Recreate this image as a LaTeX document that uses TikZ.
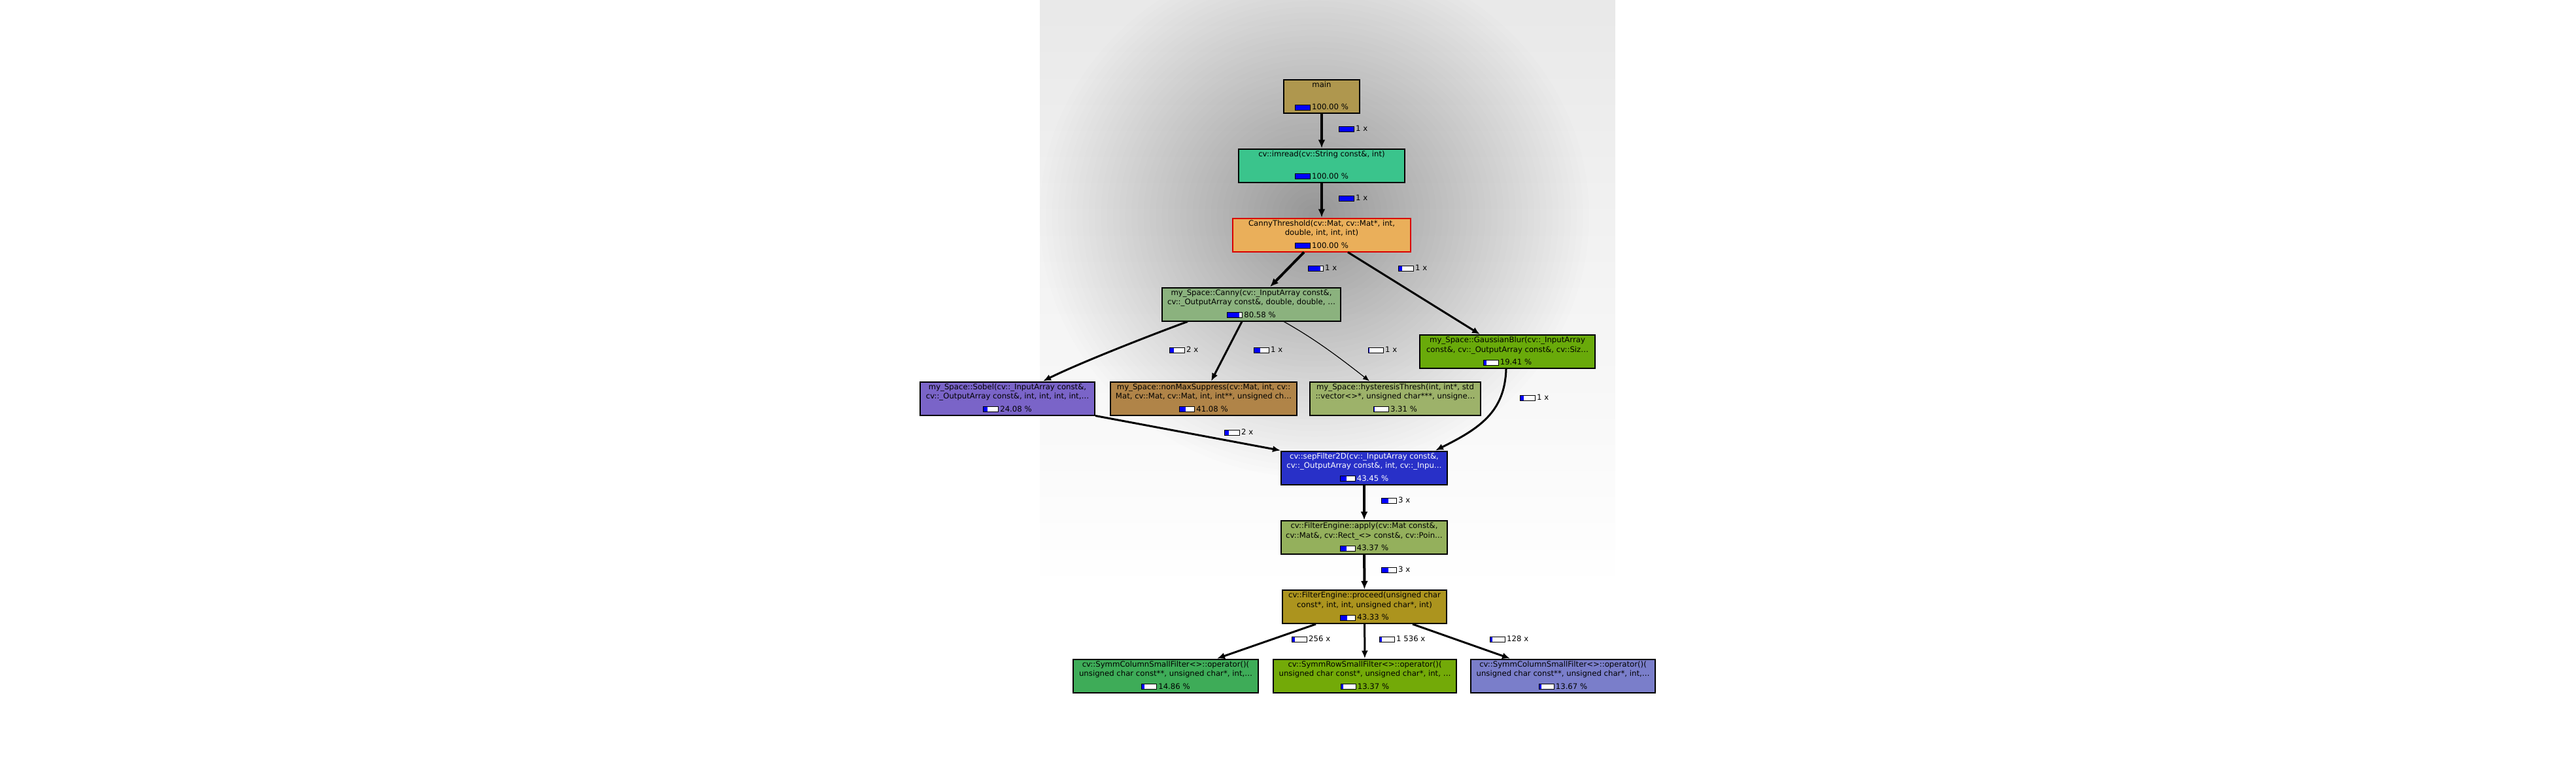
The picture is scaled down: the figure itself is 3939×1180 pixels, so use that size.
\documentclass[tikz,border=0pt]{standalone}
\usepackage{fontspec}
\setmainfont{DejaVu Sans}
\usepackage{tikz}
\usepackage{xcolor}
\usetikzlibrary{arrows.meta,positioning}

\definecolor{cmain}{RGB}{175,151,78}
\definecolor{cread}{RGB}{58,196,140}
\definecolor{cthresh}{RGB}{234,175,90}
\definecolor{ccanny}{RGB}{139,178,126}
\definecolor{csobel}{RGB}{122,100,200}
\definecolor{cnonmax}{RGB}{176,132,72}
\definecolor{chyst}{RGB}{157,178,106}
\definecolor{cgauss}{RGB}{105,170,10}
\definecolor{csep}{RGB}{40,48,200}
\definecolor{capply}{RGB}{148,176,92}
\definecolor{cproceed}{RGB}{172,148,30}
\definecolor{ccolA}{RGB}{62,172,88}
\definecolor{crow}{RGB}{115,170,8}
\definecolor{ccolB}{RGB}{122,126,202}

% cost bar, #1 = blue part in pt (0..22)
\newcommand{\pbar}[1]{{\setlength{\fboxsep}{0pt}\setlength{\fboxrule}{1pt}\fcolorbox{black}{white}{\makebox[22pt][l]{\textcolor{blue}{\rule{#1pt}{7pt}}}}}}

% function box: name, x, y, width, box options, text colour, text, bar, percent
\newcommand{\callee}[9]{%
  \node[fnbox, #5, minimum width=#4pt] (#1) at (#2,#3) {};
  \node[fnlabel, text=#6, below=3.5pt of #1.north] (#1-name) {#7};
  \node[fnlabel, text=#6, above=5pt of #1.south] (#1-cost) {\pbar{#8}\hspace{2pt}#9\ \%};
}
% call count label: name, x, y, bar, count
\newcommand{\calls}[5]{\node[calllabel] (#1) at (#2,#3) {\pbar{#4}\hspace{2pt}#5\ x};}

\begin{document}
\begin{tikzpicture}[x=1pt,y=-1pt,
    fnbox/.style={rectangle, draw=black, line width=2pt, minimum height=51pt, inner sep=0pt},
    fnlabel/.style={inner sep=0pt, align=center, font=\fontsize{11.7}{14.7}\selectfont},
    calllabel/.style={inner sep=0pt, anchor=west, font=\fontsize{11.7}{14.7}\selectfont},
    call/.style={line width=4pt, -{Latex[length=13pt,width=11pt]}},
    callmid/.style={line width=3pt, -{Latex[length=12pt,width=10pt]}},
    callthin/.style={line width=1.2pt, -{Latex[length=10pt,width=8pt]}}]
\useasboundingbox (0,0) rectangle (3939,1180);
\fill[white] (0,0) rectangle (3939,1180);

% shadow behind the graph
\begin{scope}
  \clip (1590,0) rectangle (2470,880);
  \foreach \i in {0,...,21}
    \fill[black, opacity=0.004] (1590,0) rectangle (2470,{40*(\i+1)});
  \foreach \i in {0,...,44}
    \fill[black, opacity=0.0065] (2010,330) ellipse ({420*(1-\i/45)} and {400*(1-\i/45)});
\end{scope}

\callee{main}{2021}{147.5}{116}{fill=cmain}{black}{main}{22}{100.00}
\callee{imread}{2021}{253}{254}{fill=cread}{black}{cv::imread(cv::String const\&, int)}{22}{100.00}
\callee{thresh}{2021}{359}{272}{fill=cthresh, draw=red!85!black}{black}{CannyThreshold(cv::Mat, cv::Mat*, int,\\double, int, int, int)}{22}{100.00}
\callee{canny}{1913.5}{465}{273}{fill=ccanny}{black}{my\_Space::Canny(cv::\_InputArray const\&,\\cv::\_OutputArray const\&, double, double, …}{17.7}{80.58}
\callee{sobel}{1540.5}{609}{267}{fill=csobel}{black}{my\_Space::Sobel(cv::\_InputArray const\&,\\cv::\_OutputArray const\&, int, int, int, int,…}{5.3}{24.08}
\callee{nonmax}{1840.5}{609}{285}{fill=cnonmax}{black}{my\_Space::nonMaxSuppress(cv::Mat, int, cv::\\Mat, cv::Mat, cv::Mat, int, int**, unsigned ch…}{9}{41.08}
\callee{hyst}{2133.5}{609}{261}{fill=chyst}{black}{my\_Space::hysteresisThresh(int, int*, std\\::vector<>*, unsigned char***, unsigne…}{0.8}{3.31}
\callee{gauss}{2305}{537.5}{268}{fill=cgauss}{black}{my\_Space::GaussianBlur(cv::\_InputArray\\const\&, cv::\_OutputArray const\&, cv::Siz…}{4.3}{19.41}
\callee{sep}{2086}{715}{254}{fill=csep}{white}{cv::sepFilter2D(cv::\_InputArray const\&,\\cv::\_OutputArray const\&, int, cv::\_Inpu…}{9.6}{43.45}
\callee{apply}{2086}{821.5}{254}{fill=capply}{black}{cv::FilterEngine::apply(cv::Mat const\&,\\cv::Mat\&, cv::Rect\_<> const\&, cv::Poin…}{9.5}{43.37}
\callee{proceed}{2086.5}{927.5}{251}{fill=cproceed}{black}{cv::FilterEngine::proceed(unsigned char\\const*, int, int, unsigned char*, int)}{9.5}{43.33}
\callee{colA}{1782.5}{1033}{283}{fill=ccolA}{black}{cv::SymmColumnSmallFilter<>::operator()(\\unsigned char const**, unsigned char*, int,…}{3.3}{14.86}
\callee{row}{2087}{1033}{280}{fill=crow}{black}{cv::SymmRowSmallFilter<>::operator()(\\unsigned char const*, unsigned char*, int, …}{2.9}{13.37}
\callee{colB}{2390}{1033}{282}{fill=ccolB}{black}{cv::SymmColumnSmallFilter<>::operator()(\\unsigned char const**, unsigned char*, int,…}{3}{13.67}

% calls
\draw[call] (main) -- (imread);
\draw[call] (imread) -- (thresh);
\draw[call] ([xshift=-27pt]thresh.south) -- ([xshift=28.5pt]canny.north);
\draw[callmid] ([xshift=40pt]thresh.south) -- ([xshift=-42pt]gauss.north);
\draw[callmid] ([xshift=-97.5pt]canny.south) .. controls (1760,512) and (1650,555) .. ([xshift=54.5pt]sobel.north);
\draw[callmid] ([xshift=-14.5pt]canny.south) -- ([xshift=11.5pt]nonmax.north);
\draw[callthin] ([xshift=49.5pt]canny.south) .. controls (2005,515) and (2040,540) .. ([xshift=-39.5pt]hyst.north);
\draw[callmid] ([xshift=-2pt]gauss.south) .. controls (2301,630) and (2262,655) .. ([xshift=109pt]sep.north);
\draw[callmid] (sobel.south east) -- (sep.north west);
\draw[call] (sep) -- (apply);
\draw[call] (apply) -- (proceed);
\draw[callmid] ([xshift=-74.5pt]proceed.south) -- ([xshift=78.5pt]colA.north);
\draw[callmid] (proceed) -- (row);
\draw[callmid] ([xshift=73.5pt]proceed.south) -- ([xshift=-81pt]colB.north);

\calls{n-main}{2047}{197}{22}{1}
\calls{n-read}{2047}{303}{22}{1}
\calls{n-canny}{2000}{410}{17.7}{1}
\calls{n-gauss}{2138}{410}{4.3}{1}
\calls{n-sobel}{1788}{535}{5.3}{2}
\calls{n-nonmax}{1917}{535}{9}{1}
\calls{n-hyst}{2092}{535}{0.8}{1}
\calls{n-gsep}{2324}{608}{4.3}{1}
\calls{n-ssep}{1872}{661}{5.3}{2}
\calls{n-apply}{2112}{765}{9.6}{3}
\calls{n-proceed}{2112}{871}{9.5}{3}
\calls{n-colA}{1975}{977}{3.3}{256}
\calls{n-row}{2109}{977}{2.9}{1 536}
\calls{n-colB}{2278}{977}{3}{128}
\end{tikzpicture}
\end{document}
